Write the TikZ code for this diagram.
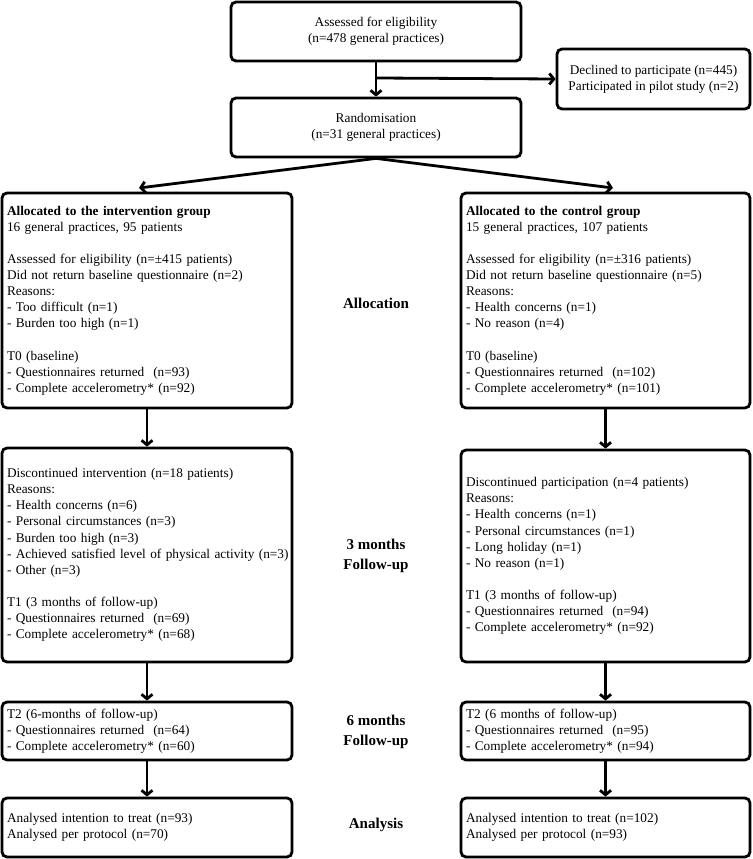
\documentclass[tikz,border=0pt]{standalone}
\usepackage{fontspec}
\setmainfont{Liberation Serif}
\usetikzlibrary{arrows.meta}
\begin{document}
\begin{tikzpicture}[x=1pt,y=-1pt,
  box/.style={draw,line width=2.8pt,rounded corners=5pt,inner xsep=5pt,inner ysep=0pt,
    font=\fontsize{13.3}{16.1}\selectfont},
  boxc/.style={box,align=center},
  boxl/.style={box,align=left,text width=280pt,minimum width=290pt},
  boxr/.style={box,align=left,text width=279pt,minimum width=289pt},
  stage/.style={font=\fontsize{15}{20}\selectfont\bfseries,align=center},
  arr/.style={line width=2.8pt,-{Straight Barb[length=4.5pt,width=11pt]}}]
\useasboundingbox (0,0) rectangle (752,859);

\node[boxc,minimum width=290pt,minimum height=59pt] (assess) at (376,31.5)
  {Assessed for eligibility\\(n=478 general practices)};
\node[boxc,minimum width=193pt,minimum height=60pt] (decl) at (653.5,79)
  {Declined to participate (n=445)\\Participated in pilot study (n=2)};
\node[boxc,minimum width=290pt,minimum height=59pt] (rand) at (376,127.5)
  {Randomisation\\(n=31 general practices)};

\node[boxl,minimum height=215pt] (LA) at (147,300.5)
  {\textbf{Allocated to the intervention group}\\
   16 general practices, 95 patients\\[16.1pt]
   Assessed for eligibility (n=±415 patients)\\
   Did not return baseline questionnaire (n=2)\\
   Reasons:\\
   - Too difficult (n=1)\\
   - Burden too high (n=1)\\[16.1pt]
   T0 (baseline)\\
   - Questionnaires returned~ (n=93)\\
   - Complete accelerometry* (n=92)};
\node[boxr,minimum height=215pt] (RA) at (605.5,300.5)
  {\textbf{Allocated to the control group}\\
   15 general practices, 107 patients\\[16.1pt]
   Assessed for eligibility (n=±316 patients)\\
   Did not return baseline questionnaire (n=5)\\
   Reasons:\\
   - Health concerns (n=1)\\
   - No reason (n=4)\\[16.1pt]
   T0 (baseline)\\
   - Questionnaires returned~ (n=102)\\
   - Complete accelerometry* (n=101)};

\node[boxl,minimum height=214pt] (LB) at (147,555)
  {Discontinued intervention (n=18 patients)\\
   Reasons:\\
   - Health concerns (n=6)\\
   - Personal circumstances (n=3)\\
   - Burden too high (n=3)\\
   \mbox{- Achieved satisfied level of physical activity (n=3)}\\
   - Other (n=3)\\[16.1pt]
   T1 (3 months of follow-up)\\
   - Questionnaires returned~ (n=69)\\
   - Complete accelerometry* (n=68)};
\node[boxr,minimum height=212pt] (RB) at (605.5,556)
  {Discontinued participation (n=4 patients)\\
   Reasons:\\
   - Health concerns (n=1)\\
   - Personal circumstances (n=1)\\
   - Long holiday (n=1)\\
   - No reason (n=1)\\[16.1pt]
   T1 (3 months of follow-up)\\
   - Questionnaires returned~ (n=94)\\
   - Complete accelerometry* (n=92)};

\node[boxl,minimum height=58pt] (LC) at (147,731)
  {T2 (6-months of follow-up)\\
   - Questionnaires returned~ (n=64)\\
   - Complete accelerometry* (n=60)};
\node[boxr,minimum height=58pt] (RC) at (605.5,731)
  {T2 (6 months of follow-up)\\
   - Questionnaires returned~ (n=95)\\
   - Complete accelerometry* (n=94)};

\node[boxl,minimum height=59pt] (LD) at (147,827.5)
  {Analysed intention to treat (n=93)\\
   Analysed per protocol (n=70)};
\node[boxr,minimum height=59pt] (RD) at (605.5,827.5)
  {Analysed intention to treat (n=102)\\
   Analysed per protocol (n=93)};

\node[stage] (s1) at (376,303) {Allocation};
\node[stage] (s2) at (376,556) {3 months\\Follow-up};
\node[stage] (s3) at (376,732) {6 months\\Follow-up};
\node[stage] (s4) at (376,825) {Analysis};

\coordinate (branch) at (376,78);
\coordinate (lt) at (139,188);
\coordinate (rt) at (613,188);
\draw[arr] (assess.south) -- (rand.north);
\draw[arr] (branch) -- (decl.west);
\draw[arr] (rand.south) -- (lt);
\draw[arr] (rand.south) -- (rt);
\draw[arr] (LA.south) -- (LB.north);
\draw[arr] (RA.south) -- (RB.north);
\draw[arr] (LB.south) -- (LC.north);
\draw[arr] (RB.south) -- (RC.north);
\draw[arr] (LC.south) -- (LD.north);
\draw[arr] (RC.south) -- (RD.north);
\end{tikzpicture}
\end{document}
